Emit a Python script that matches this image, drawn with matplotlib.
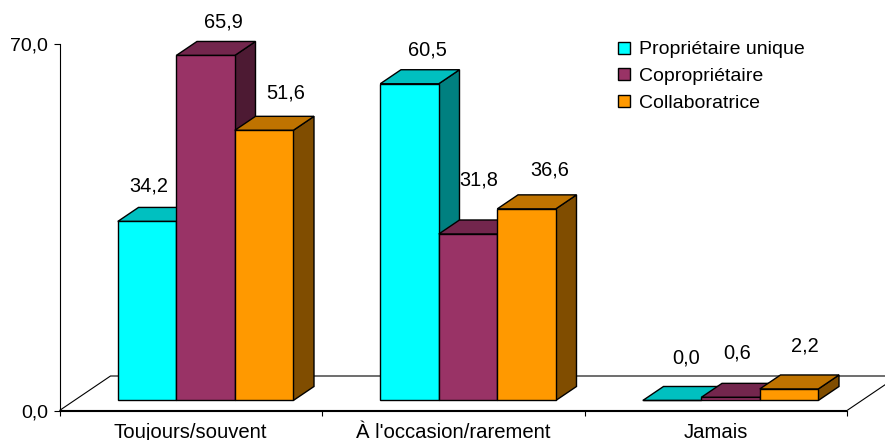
import matplotlib
matplotlib.use("Agg")
import matplotlib.pyplot as plt
from matplotlib.patches import Polygon, Rectangle

# --- data -------------------------------------------------------------
categories = ["Toujours/souvent", "À l'occasion/rarement", "Jamais"]
series_names = ["Propriétaire unique", "Copropriétaire", "Collaboratrice"]
proprietaire_unique = [34.2, 60.5, 0.0]
coproprietaire = [65.9, 31.8, 0.6]
collaboratrice = [51.6, 36.6, 2.2]
y_ticks = [0, 70]
y_tick_labels = ["0,0", "70,0"]

series_values = [proprietaire_unique, coproprietaire, collaboratrice]

# --- styling ----------------------------------------------------------
FONT = "Liberation Sans"
FS = 14
# front / top / side shades for each series
shades = [
    ("#00FFFF", "#00C0C0", "#008080"),
    ("#993366", "#73264D", "#4D1A33"),
    ("#FF9900", "#BF7300", "#804D00"),
]
# small per-label nudges (pixels, dx right, dy up) to keep labels clear
label_nudge = [
    [(-14.5, -2), (1.5, -3.5), (6, 0.5)],
    [(2, -3), (-5, 17), (7, 2)],
    [(-2, 5.5), (-9, 7.5), (0, 6)],
]

W, H = 885, 440
fig = plt.figure(figsize=(W / 100, H / 100), dpi=100)
fig.patch.set_facecolor("white")

ax_l, ax_r, ax_b, ax_t = 59.5, 847, 410.5, 44
ax = fig.add_axes([ax_l / W, (H - ax_b) / H, (ax_r - ax_l) / W, (ax_b - ax_t) / H])
ax.set_xlim(0, 3)
ax.set_ylim(0, 70)
ax.set_facecolor("none")

px_per_x = (ax_r - ax_l) / 3
px_per_y = (ax_b - ax_t) / 70

# depth of the floor (oblique projection), in data units
DX = 51 / px_per_x
DY = 34.5 / px_per_y
f0, f1 = 0.29, 0.696          # front / back planes of the bars
bw = 58.5 / px_per_x          # bar width

# floor
floor = Polygon([(0, 0), (3, 0), (3 + DX, DY), (DX, DY)], closed=True,
                facecolor="white", edgecolor="black", lw=0.8,
                clip_on=False, zorder=1)
ax.add_patch(floor)

ox0, oy0 = f0 * DX, f0 * DY
ox1, oy1 = f1 * DX, f1 * DY

for i in range(len(categories)):
    for j, vals in enumerate(series_values):
        v = vals[i]
        front, top, side = shades[j]
        x0 = i + 0.5 + (j - 1.5) * bw + ox0
        x1 = x0 + bw
        y0 = oy0
        y1 = oy0 + v
        ddx, ddy = ox1 - ox0, oy1 - oy0
        z = 3 + i * 3 + j
        side_poly = Polygon([(x1, y0), (x1 + ddx, y0 + ddy), (x1 + ddx, y1 + ddy), (x1, y1)],
                            closed=True, facecolor=side, edgecolor="black",
                            lw=1.0, clip_on=False, zorder=z)
        top_poly = Polygon([(x0, y1), (x1, y1), (x1 + ddx, y1 + ddy), (x0 + ddx, y1 + ddy)],
                           closed=True, facecolor=top, edgecolor="black",
                           lw=1.0, clip_on=False, zorder=z)
        ax.add_patch(side_poly)
        ax.add_patch(top_poly)
        ax.bar(x0, v, width=bw, bottom=y0, align="edge", color=front,
               edgecolor="black", lw=1.0, clip_on=False, zorder=z + 0.5)
        ndx, ndy = label_nudge[i][j]
        ax.annotate(f"{v:.1f}".replace(".", ","), xy=(x0 + bw / 2, y1),
                    xytext=(16 + ndx, 37 + ndy), textcoords="offset pixels",
                    ha="center", va="center", fontsize=FS + 0.4, family=FONT,
                    color="black", zorder=40, annotation_clip=False)

# axes
for s in ("top", "right"):
    ax.spines[s].set_visible(False)
ax.spines["left"].set_linewidth(0.8)
ax.spines["bottom"].set_linewidth(0.8)
ax.spines["bottom"].set_zorder(2)
ax.set_yticks(y_ticks)
ax.set_yticklabels(y_tick_labels, fontsize=FS, family=FONT)
ax.tick_params(axis="y", length=4, width=0.8, pad=4.3, direction="out")
ax.set_xticks([0, 1, 2, 3])
ax.set_xticklabels([])
ax.tick_params(axis="x", length=3.6, width=0.8, direction="out")

for i, name in enumerate(categories):
    ax.annotate(name, xy=(i + 0.5, 0), xytext=(0, -27), textcoords="offset pixels",
                ha="center", va="baseline", fontsize=FS + 0.6, family=FONT,
                annotation_clip=False)

# legend
leg_baselines = [54.3, 81, 107.5]
for (front, _, _), name, yb in zip(shades, series_names, leg_baselines):
    sq = Rectangle((618 / W, (H - (yb - 0.5)) / H), 12 / W, 12 / H,
                   transform=fig.transFigure, facecolor=front,
                   edgecolor="black", lw=1.0)
    fig.add_artist(sq)
    fig.text(639 / W, (H - yb) / H, name, fontsize=FS, family=FONT,
             ha="left", va="baseline")

fig.savefig("out.png", dpi=100, facecolor="white")
